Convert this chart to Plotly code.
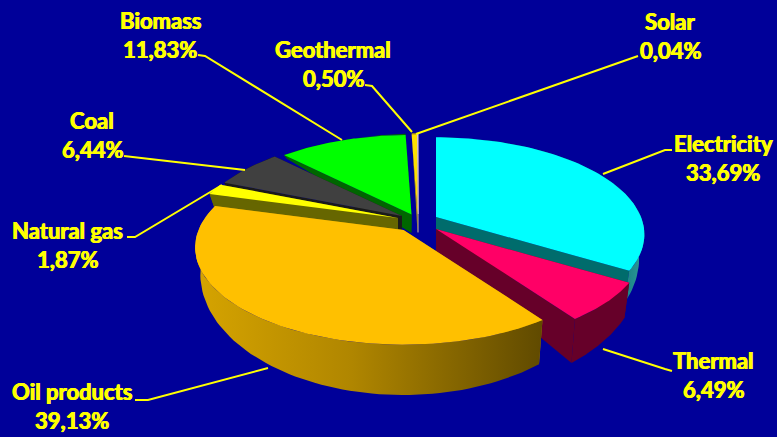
import numpy as np
import plotly.graph_objects as go

categories = ["Electricity", "Thermal", "Oil products", "Natural gas", "Coal", "Biomass", "Geothermal", "Solar"]
shares = [33.69, 6.49, 39.13, 1.87, 6.44, 11.83, 0.50, 0.04]
share_labels = ["33,69%", "6,49%", "39,13%", "1,87%", "6,44%", "11,83%", "0,50%", "0,04%"]

# styling / layout constants
BG = "#000099"
TXT = "#FFFF00"
top_col = ["#00FFFF", "#FF0066", "#FFC000", "#FFFF00", "#404040", "#00FF00", "#FFE000", "#D8C0E8"]
side_col = ["#006C6C", "#660029", "#A88000", "#666600", "#1A1A1A", "#006600", "#B89A00", "#9080A0"]
side_grad = {
    "Electricity": [[0, "#006C6C"], [0.8, "#006C6C"], [1, "#2E9A9A"]],
    "Oil products": [[0, "#D6A400"], [0.45, "#B08600"], [1, "#604A00"]],
}
apex = {"Electricity": (436, 217), "Thermal": (436, 229), "Oil products": (403.5, 230),
        "Natural gas": (398, 218), "Coal": (402, 216), "Biomass": (411.5, 214.5),
        "Geothermal": (417.5, 214), "Solar": (418, 214)}
A, B, K = 205.0, 94.0, 0.18
DEPTH, VANISH_Y, SHRINK = 0.245, 139.0, 0.975
draw_order = ["Solar", "Geothermal", "Biomass", "Coal", "Natural gas", "Electricity", "Thermal", "Oil products"]

label_pos = {"Electricity": (723, 143), "Thermal": (713, 360), "Oil products": (72, 391),
             "Natural gas": (67, 230), "Coal": (92, 120), "Biomass": (160, 20),
             "Geothermal": (333, 49), "Solar": (670, 21)}
leaders = {"Electricity": [(672, 150), (665, 150), (603, 174)],
           "Thermal": [(672, 371), (665, 369), (603, 349)],
           "Oil products": [(135, 400), (148, 400), (268, 368)],
           "Natural gas": [(127, 237), (135, 237), (222, 185)],
           "Coal": [(124, 156), (245, 170)],
           "Biomass": [(198, 55), (205, 56), (342, 140)],
           "Geothermal": [(365, 85), (372, 86), (412, 132)],
           "Solar": [(638, 56), (416, 134)]}


def project(theta, r, a):
    px, py = r * np.sin(theta), r * np.cos(theta)
    s = 1.0 / (1.0 + K * py)
    return a[0] + A * px * s, a[1] - B * py * s


def drop(x, y, a):
    return a[0] + (x - a[0]) * SHRINK, y + DEPTH * (y - VANISH_Y)


fig = go.Figure()


def poly(x, y, color, grad=None, line=0):
    kw = dict(x=list(x), y=list(y), mode="lines", fill="toself", hoverinfo="skip", showlegend=False)
    kw["line"] = dict(width=line, color=color)
    if grad:
        kw["fillgradient"] = dict(type="horizontal", colorscale=grad)
    else:
        kw["fillcolor"] = color
    fig.add_trace(go.Scatter(**kw))


edges = np.concatenate([[0], np.cumsum(shares)]) / sum(shares) * 2 * np.pi
for name in draw_order:
    i = categories.index(name)
    a = apex[name]
    th = np.linspace(edges[i], edges[i + 1], 80)
    rx, ry = project(th, 1.0, a)
    bx, by = drop(rx, ry, a)
    ax0, ay0 = drop(a[0], a[1], a)
    lw = 1 if name == "Solar" else 0
    # radial walls
    poly([a[0], rx[0], bx[0], ax0], [a[1], ry[0], by[0], ay0], side_col[i], line=lw)
    poly([a[0], rx[-1], bx[-1], ax0], [a[1], ry[-1], by[-1], ay0], side_col[i], line=lw)
    # outer wall
    poly(np.r_[rx, bx[::-1]], np.r_[ry, by[::-1]], side_col[i], grad=side_grad.get(name), line=lw)
    # top face
    poly(np.r_[a[0], rx], np.r_[a[1], ry], top_col[i], line=lw)

for name, pts in leaders.items():
    fig.add_trace(go.Scatter(x=[p[0] for p in pts], y=[p[1] for p in pts], mode="lines",
                             line=dict(color=TXT, width=2), hoverinfo="skip", showlegend=False))

for name, lab in zip(categories, share_labels):
    x, y = label_pos[name]
    for t, yy in ((name, y), (lab, y + 29)):
        fig.add_annotation(x=x, y=yy, text=f"<b>{t}</b>", showarrow=False,
                           font=dict(family="Lato", size=22, color=TXT,
                                     shadow="0.6px 0 0 #FFFF00, -0.4px 0 0 #FFFF00"))

fig.update_layout(width=777, height=437, margin=dict(l=0, r=0, t=0, b=0),
                  paper_bgcolor=BG, plot_bgcolor=BG, showlegend=False,
                  xaxis=dict(range=[0, 777], visible=False, fixedrange=True),
                  yaxis=dict(range=[437, 0], visible=False, fixedrange=True))
fig.write_html("out.html", config={"displayModeBar": False},
               post_script="document.body.style.margin='0';document.body.style.overflow='hidden';"
                           "document.body.style.background='#000099';")
